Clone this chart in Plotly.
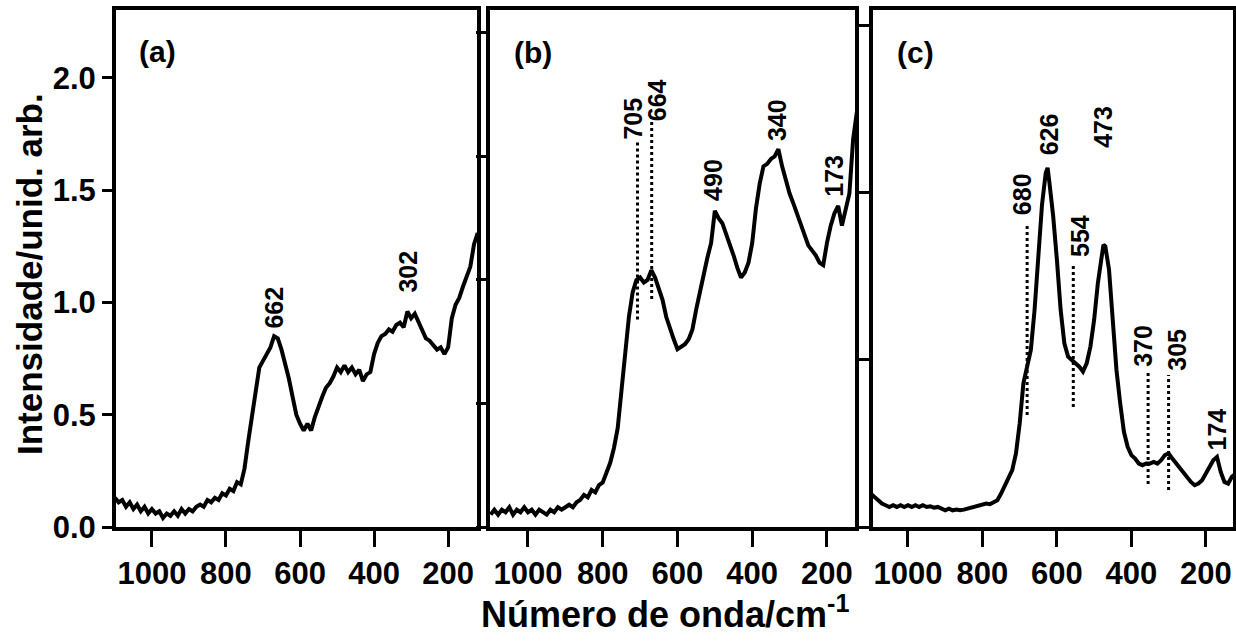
import plotly.graph_objects as go

# ---------------- data ----------------
# Panel (a)
wn_a = [1100, 1090, 1080, 1070, 1060, 1050, 1040, 1030, 1020, 1010, 1000, 990, 980, 970, 960, 950, 940, 930,
        920, 910, 900, 890, 880, 870, 860, 850, 840, 830, 820, 810, 800, 790, 780, 770, 760, 750, 740, 730,
        720, 710, 700, 690, 680, 670, 660, 650, 640, 630, 620, 610, 600, 590, 580, 570, 560, 550, 540, 530,
        520, 510, 500, 490, 480, 470, 460, 450, 440, 430, 420, 410, 400, 390, 380, 370, 360, 350, 340, 330,
        320, 310, 300, 290, 280, 270, 260, 250, 240, 230, 220, 210, 200, 190, 180, 170, 160, 150, 140, 130, 120]
int_a = [0.13, 0.11, 0.12, 0.09, 0.11, 0.08, 0.10, 0.07, 0.09, 0.06, 0.08, 0.06, 0.07, 0.04, 0.06, 0.05, 0.07, 0.05,
         0.08, 0.06, 0.08, 0.07, 0.09, 0.10, 0.09, 0.12, 0.11, 0.13, 0.12, 0.15, 0.14, 0.17, 0.16, 0.20, 0.19, 0.26, 0.38, 0.50,
         0.62, 0.71, 0.74, 0.77, 0.80, 0.85, 0.84, 0.79, 0.73, 0.66, 0.58, 0.50, 0.46, 0.43, 0.46, 0.43, 0.49, 0.54, 0.58, 0.62,
         0.64, 0.67, 0.71, 0.69, 0.72, 0.69, 0.71, 0.68, 0.70, 0.65, 0.68, 0.69, 0.77, 0.82, 0.85, 0.86, 0.88, 0.87, 0.90, 0.91,
         0.89, 0.96, 0.93, 0.95, 0.91, 0.87, 0.84, 0.83, 0.81, 0.79, 0.80, 0.77, 0.80, 0.93, 0.99, 1.02, 1.07, 1.11, 1.16, 1.26, 1.31]

# Panel (b)
wn_b = wn_a
int_b = [0.05, 0.07, 0.05, 0.07, 0.06, 0.08, 0.05, 0.07, 0.06, 0.08, 0.06, 0.07, 0.05, 0.07, 0.06, 0.05, 0.07, 0.06,
         0.08, 0.07, 0.08, 0.09, 0.08, 0.10, 0.11, 0.13, 0.12, 0.15, 0.14, 0.17, 0.18, 0.22, 0.26, 0.32, 0.40, 0.55, 0.71, 0.85,
         0.95, 1.00, 1.01, 0.99, 1.00, 1.04, 1.01, 0.97, 0.92, 0.85, 0.80, 0.76, 0.72, 0.73, 0.74, 0.76, 0.80, 0.88, 0.96, 1.02,
         1.09, 1.15, 1.28, 1.25, 1.23, 1.19, 1.15, 1.10, 1.05, 1.01, 1.03, 1.07, 1.15, 1.29, 1.39, 1.46, 1.47, 1.49, 1.50, 1.53,
         1.46, 1.40, 1.35, 1.31, 1.27, 1.23, 1.18, 1.14, 1.12, 1.10, 1.07, 1.06, 1.15, 1.22, 1.27, 1.30, 1.22, 1.29, 1.35, 1.57, 1.68]

# Panel (c)
wn_c = [1100, 1090, 1080, 1070, 1060, 1050, 1040, 1030, 1020, 1010, 1000, 990, 980, 970, 960, 950, 940, 930,
        920, 910, 900, 890, 880, 870, 860, 850, 840, 830, 820, 810, 800, 790, 780, 770, 760, 750, 740, 730,
        720, 710, 700, 690, 680, 670, 660, 650, 640, 630, 625, 620, 610, 600, 590, 580, 570, 560, 550, 540,
        530, 520, 510, 500, 490, 480, 475, 470, 460, 450, 440, 430, 420, 410, 400, 390, 380, 370, 360, 350,
        340, 330, 320, 310, 300, 290, 280, 270, 260, 250, 240, 230, 220, 210, 200, 190, 180, 170, 160, 150,
        140, 130, 120]
int_c = [0.10, 0.09, 0.08, 0.07, 0.065, 0.06, 0.065, 0.06, 0.065, 0.06, 0.065, 0.06, 0.065, 0.06, 0.065, 0.06, 0.062, 0.058,
         0.06, 0.055, 0.05, 0.055, 0.05, 0.052, 0.05, 0.052, 0.055, 0.058, 0.06, 0.062, 0.065, 0.07, 0.068, 0.075, 0.08, 0.10, 0.125, 0.145,
         0.17, 0.22, 0.31, 0.43, 0.48, 0.53, 0.65, 0.82, 0.965, 1.06, 1.075, 1.03, 0.93, 0.80, 0.65, 0.55, 0.51, 0.50, 0.49, 0.48,
         0.465, 0.49, 0.54, 0.62, 0.73, 0.82, 0.845, 0.84, 0.77, 0.62, 0.47, 0.37, 0.285, 0.24, 0.215, 0.205, 0.19, 0.185, 0.19, 0.19,
         0.195, 0.19, 0.20, 0.215, 0.22, 0.205, 0.19, 0.175, 0.16, 0.15, 0.135, 0.125, 0.13, 0.14, 0.16, 0.18, 0.20, 0.21, 0.165, 0.135,
         0.13, 0.15, 0.16]

# Peak labels: text, wavenumber of label centre, intensity of label centre
lab_a = ["662", "302"]
lab_a_x = [670, 311]
lab_a_y = [0.978, 1.138]

lab_b = ["705", "664", "490", "340", "173"]
lab_b_x = [720, 654, 505, 332, 182]
lab_b_y = [1.652, 1.729, 1.405, 1.646, 1.421]

lab_c = ["626", "473", "680", "554", "370", "305", "174"]
lab_c_x = [619, 476, 694, 538, 369, 278, 170]
lab_c_y = [1.175, 1.198, 0.996, 0.871, 0.542, 0.530, 0.292]

# Dotted marker lines: wavenumber, low end, high end
dot_b_x = [707, 669]
dot_b_lo = [0.84, 0.923]
dot_b_hi = [1.567, 1.656]

dot_c_x = [680, 556, 355, 300]
dot_c_lo = [0.335, 0.359, 0.129, 0.111]
dot_c_hi = [0.91, 0.786, 0.47, 0.455]

panel_tags = ["(a)", "(b)", "(c)"]
x_ticks = [1000, 800, 600, 400, 200]
y_ticks_a = [0.0, 0.5, 1.0, 1.5, 2.0]
y_ticks_b = [0.0, 0.5, 1.0, 1.5, 2.0]
y_ticks_c = [0.0, 0.5, 1.0, 1.5]

# ---------------- layout helpers ----------------
W, H = 1236, 641
FONT = "Liberation Sans, Arial, sans-serif"


def fx(p):
    return p / W


def fy(p):
    return 1 - p / H


x_doms = [(116, 477), (489.5, 855), (873, 1233)]
x_ranges = [[1097, 122], [1103, 125], [1094, 127]]
y_ranges = [[0, 2.305], [0, 2.095], [0, 1.549]]
y_dom = [fy(527), fy(9.5)]

fig = go.Figure()

series = [(wn_a, int_a), (wn_b, int_b), (wn_c, int_c)]
for i, (xs, ys) in enumerate(series):
    sfx = "" if i == 0 else str(i + 1)
    fig.add_trace(go.Scatter(x=xs, y=ys, mode="lines", xaxis="x" + sfx, yaxis="y" + sfx,
                             line=dict(color="black", width=4), hoverinfo="skip"))

for xv, lo, hi in zip(dot_b_x, dot_b_lo, dot_b_hi):
    fig.add_trace(go.Scatter(x=[xv, xv], y=[lo, hi], mode="lines", xaxis="x2", yaxis="y2",
                             line=dict(color="black", width=3, dash="dot"), hoverinfo="skip"))
for xv, lo, hi in zip(dot_c_x, dot_c_lo, dot_c_hi):
    fig.add_trace(go.Scatter(x=[xv, xv], y=[lo, hi], mode="lines", xaxis="x3", yaxis="y3",
                             line=dict(color="black", width=3, dash="dot"), hoverinfo="skip"))

layout = dict(width=W, height=H, margin=dict(l=0, r=0, t=0, b=0, pad=0, autoexpand=False),
              paper_bgcolor="white", plot_bgcolor="white", showlegend=False, template="none")

yticks = [y_ticks_a, y_ticks_b, y_ticks_c]
for i in range(3):
    sfx = "" if i == 0 else str(i + 1)
    layout["xaxis" + sfx] = dict(
        domain=[fx(x_doms[i][0]), fx(x_doms[i][1])], range=x_ranges[i], anchor="y" + sfx,
        automargin=False,
        showline=True, linecolor="black", linewidth=4, mirror=True, showgrid=False, zeroline=False,
        ticks="outside", ticklen=16, tickwidth=3, tickcolor="black",
        tickvals=x_ticks, ticktext=[str(v) for v in x_ticks],
        tickfont=dict(family=FONT, size=31, color="black", weight="bold"))
    layout["yaxis" + sfx] = dict(
        domain=y_dom, range=y_ranges[i], anchor="x" + sfx,
        automargin=False,
        showline=True, linecolor="black", linewidth=4, mirror=True, showgrid=False, zeroline=False,
        ticks="outside", ticklen=10, tickwidth=3, tickcolor="black",
        tickvals=yticks[i], tickformat=".1f", showticklabels=(i == 0),
        tickfont=dict(family=FONT, size=31, color="black", weight="bold"))

annotations = []
for sfx, labs, lx, ly in [("", lab_a, lab_a_x, lab_a_y), ("2", lab_b, lab_b_x, lab_b_y),
                          ("3", lab_c, lab_c_x, lab_c_y)]:
    for t, xv, yv in zip(labs, lx, ly):
        annotations.append(dict(text=t, x=xv, y=yv, xref="x" + sfx, yref="y" + sfx, showarrow=False,
                                textangle=-90, xanchor="center", yanchor="middle",
                                font=dict(family=FONT, size=25, color="black", weight="bold")))

tag_pos = [(157, 51), (533, 53), (915, 53)]
for t, (px, py) in zip(panel_tags, tag_pos):
    annotations.append(dict(text=t, x=fx(px), y=fy(py), xref="paper", yref="paper", showarrow=False,
                            xanchor="center", yanchor="middle",
                            font=dict(family=FONT, size=30, color="black", weight="bold")))

annotations.append(dict(text="Número de onda/cm<sup>-1</sup>", x=fx(665), y=fy(612), xref="paper", yref="paper",
                        showarrow=False, xanchor="center", yanchor="middle",
                        font=dict(family=FONT, size=36, color="black", weight="bold")))
annotations.append(dict(text="Intensidade/unid. arb.", x=fx(29), y=fy(274), xref="paper", yref="paper",
                        showarrow=False, textangle=-90, xanchor="center", yanchor="middle",
                        font=dict(family=FONT, size=35, color="black", weight="bold")))
layout["annotations"] = annotations

fig.update_layout(**layout)
fig.write_html("out.html")
